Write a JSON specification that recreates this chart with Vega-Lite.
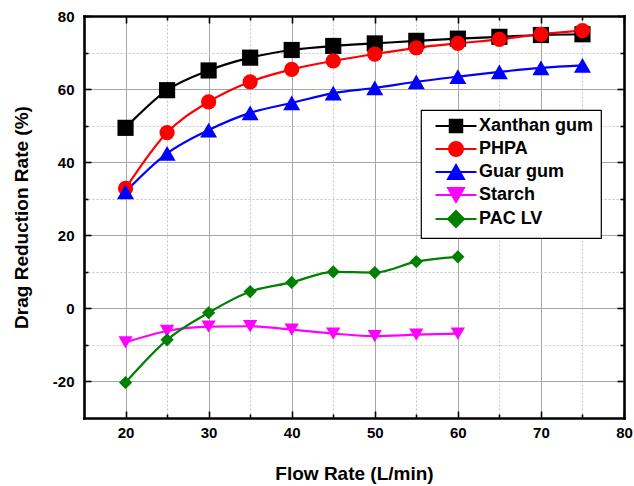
{
  "$schema": "https://vega.github.io/schema/vega-lite/v6.json",
  "width": 540,
  "height": 402,
  "autosize": "none",
  "padding": {"left": 84, "top": 16, "right": 10, "bottom": 68},
  "config": {
    "font": "Liberation Sans",
    "view": {"stroke": null},
    "axis": {
      "labelFont": "Liberation Sans",
      "labelFontWeight": "bold",
      "labelFontSize": 15,
      "labelColor": "black",
      "titleFont": "Liberation Sans",
      "titleFontWeight": "bold",
      "titleFontSize": 19,
      "titleColor": "black",
      "domainColor": "black",
      "domainWidth": 2.6,
      "domainCap": "square",
      "tickColor": "black",
      "tickWidth": 1.6,
      "gridWidth": 1
    },
    "legend": {
      "strokeWidth": 1.2,
      "orient": "none",
      "legendX": 337,
      "legendY": 94,
      "padding": 7,
      "fillColor": "white",
      "strokeColor": "black",
      "labelFont": "Liberation Sans",
      "labelFontSize": 18,
      "labelFontWeight": "bold",
      "labelColor": "black",
      "symbolSize": 100,
      "symbolStrokeWidth": 2,
      "symbolOffset": 19,
      "labelOffset": 14,
      "rowPadding": 1
    }
  },
  "data": {
    "values": [
      {"series": "Xanthan gum", "flow": 20, "drr": 49.4},
      {"series": "Xanthan gum", "flow": 25, "drr": 59.7},
      {"series": "Xanthan gum", "flow": 30, "drr": 65.1},
      {"series": "Xanthan gum", "flow": 35, "drr": 68.6},
      {"series": "Xanthan gum", "flow": 40, "drr": 70.7},
      {"series": "Xanthan gum", "flow": 45, "drr": 71.8},
      {"series": "Xanthan gum", "flow": 50, "drr": 72.5},
      {"series": "Xanthan gum", "flow": 55, "drr": 73.2},
      {"series": "Xanthan gum", "flow": 60, "drr": 73.8},
      {"series": "Xanthan gum", "flow": 65, "drr": 74.3},
      {"series": "Xanthan gum", "flow": 70, "drr": 74.8},
      {"series": "Xanthan gum", "flow": 75, "drr": 75.0},
      {"series": "PHPA", "flow": 20, "drr": 32.8},
      {"series": "PHPA", "flow": 25, "drr": 48.1},
      {"series": "PHPA", "flow": 30, "drr": 56.5},
      {"series": "PHPA", "flow": 35, "drr": 62.0},
      {"series": "PHPA", "flow": 40, "drr": 65.4},
      {"series": "PHPA", "flow": 45, "drr": 67.7},
      {"series": "PHPA", "flow": 50, "drr": 69.6},
      {"series": "PHPA", "flow": 55, "drr": 71.3},
      {"series": "PHPA", "flow": 60, "drr": 72.5},
      {"series": "PHPA", "flow": 65, "drr": 73.6},
      {"series": "PHPA", "flow": 70, "drr": 75.0},
      {"series": "PHPA", "flow": 75, "drr": 76.0},
      {"series": "Guar gum", "flow": 20, "drr": 31.9},
      {"series": "Guar gum", "flow": 25, "drr": 42.4},
      {"series": "Guar gum", "flow": 30, "drr": 48.8},
      {"series": "Guar gum", "flow": 35, "drr": 53.5},
      {"series": "Guar gum", "flow": 40, "drr": 56.2},
      {"series": "Guar gum", "flow": 45, "drr": 58.9},
      {"series": "Guar gum", "flow": 50, "drr": 60.3},
      {"series": "Guar gum", "flow": 55, "drr": 62.0},
      {"series": "Guar gum", "flow": 60, "drr": 63.4},
      {"series": "Guar gum", "flow": 65, "drr": 64.7},
      {"series": "Guar gum", "flow": 70, "drr": 65.8},
      {"series": "Guar gum", "flow": 75, "drr": 66.5},
      {"series": "Starch", "flow": 20, "drr": -9.3},
      {"series": "Starch", "flow": 25, "drr": -6.2},
      {"series": "Starch", "flow": 30, "drr": -5.0},
      {"series": "Starch", "flow": 35, "drr": -4.9},
      {"series": "Starch", "flow": 40, "drr": -5.8},
      {"series": "Starch", "flow": 45, "drr": -6.9},
      {"series": "Starch", "flow": 50, "drr": -7.6},
      {"series": "Starch", "flow": 55, "drr": -7.2},
      {"series": "Starch", "flow": 60, "drr": -6.9},
      {"series": "PAC LV", "flow": 20, "drr": -20.3},
      {"series": "PAC LV", "flow": 25, "drr": -8.6},
      {"series": "PAC LV", "flow": 30, "drr": -1.2},
      {"series": "PAC LV", "flow": 35, "drr": 4.6},
      {"series": "PAC LV", "flow": 40, "drr": 7.1},
      {"series": "PAC LV", "flow": 45, "drr": 10.0},
      {"series": "PAC LV", "flow": 50, "drr": 9.8},
      {"series": "PAC LV", "flow": 55, "drr": 12.8},
      {"series": "PAC LV", "flow": 60, "drr": 14.1}
    ]
  },
  "layer": [
    {
      "mark": {"type": "line", "interpolate": "monotone", "strokeWidth": 2.2},
      "encoding": {
        "x": {
          "field": "flow", "type": "quantitative",
          "scale": {"domain": [15, 80], "nice": false, "zero": false},
          "axis": {
            "orient": "bottom",
            "title": "Flow Rate (L/min)",
            "titlePadding": 24,
            "values": [20, 25, 30, 35, 40, 45, 50, 55, 60, 65, 70, 75, 80],
            "labelExpr": "datum.value % 10 === 0 ? datum.label : ''",
            "labelPadding": 14,
            "labelFlush": false,
            "tickSize": {"condition": {"test": "datum.value % 10 === 0", "value": -7}, "value": -4},
            "grid": true,
            "gridColor": {"condition": {"test": "datum.value % 10 === 0", "value": "#a6a6a6"}, "value": "#c4c4c4"},
            "gridDash": {"condition": {"test": "datum.value % 10 === 0", "value": []}, "value": [2, 2]}
          }
        },
        "y": {
          "field": "drr", "type": "quantitative",
          "scale": {"domain": [-30, 80], "nice": false, "zero": false},
          "axis": {
            "orient": "left",
            "title": "Drag Reduction Rate (%)",
            "titlePadding": 21,
            "values": [-20, -10, 0, 10, 20, 30, 40, 50, 60, 70, 80],
            "labelExpr": "datum.value % 20 === 0 ? '' + datum.value : ''",
            "labelPadding": 17,
            "labelFlush": false,
            "tickSize": {"condition": {"test": "datum.value % 20 === 0", "value": -7}, "value": -4},
            "grid": true,
            "gridColor": {"condition": {"test": "datum.value % 20 === 0", "value": "#a6a6a6"}, "value": "#c4c4c4"},
            "gridDash": {"condition": {"test": "datum.value % 20 === 0", "value": []}, "value": [2, 2]}
          }
        },
        "color": {
          "field": "series", "type": "nominal",
          "scale": {
            "domain": ["Xanthan gum", "PHPA", "Guar gum", "Starch", "PAC LV"],
            "range": ["#000000", "#ff0000", "#0000ff", "#ff00ff", "#008000"]
          },
          "legend": {
            "title": null,
            "encode": {
              "symbols": {
                "update": {
                  "fill": {"scale": "color", "field": "value"},
                  "stroke": {"scale": "color", "field": "value"},
                  "shape": {"signal": "datum.value === 'Xanthan gum' ? 'M-4.1,0H4.1M-1.25,-1.25H1.25V1.25H-1.25Z' : datum.value === 'PHPA' ? 'M-4.1,0H4.1M-1.4,0A1.4,1.4,0,1,0,1.4,0A1.4,1.4,0,1,0,-1.4,0Z' : datum.value === 'Guar gum' ? 'M-4.1,0H4.1M0,-1.4L1.6,1.4L-1.6,1.4Z' : datum.value === 'Starch' ? 'M-4.1,0H4.1M0,1.4L1.6,-1.4L-1.6,-1.4Z' : 'M-4.1,0H4.1M0,-1.6L1.6,0L0,1.6L-1.6,0Z'"}
                }
              }
            }
          }
        }
      }
    },
    {
      "mark": {"type": "point", "filled": true, "opacity": 1},
      "encoding": {
        "x": {
          "field": "flow", "type": "quantitative",
          "axis": {
            "orient": "top",
            "title": null,
            "labels": false,
            "grid": false,
            "values": [20, 25, 30, 35, 40, 45, 50, 55, 60, 65, 70, 75, 80],
            "tickSize": {"condition": {"test": "datum.value % 10 === 0", "value": -7}, "value": -4}
          }
        },
        "y": {
          "field": "drr", "type": "quantitative",
          "axis": {
            "orient": "right",
            "title": null,
            "labels": false,
            "grid": false,
            "values": [-20, -10, 0, 10, 20, 30, 40, 50, 60, 70, 80],
            "tickSize": {"condition": {"test": "datum.value % 20 === 0", "value": -7}, "value": -4}
          }
        },
        "color": {"field": "series", "type": "nominal", "legend": null},
        "shape": {
          "field": "series", "type": "nominal",
          "scale": {
            "domain": ["PHPA", "Xanthan gum", "Guar gum", "Starch", "PAC LV"],
            "range": ["circle", "square", "triangle-up", "triangle-down", "diamond"]
          },
          "legend": null
        },
        "size": {
          "field": "series", "type": "nominal",
          "scale": {
            "domain": ["Guar gum", "Xanthan gum", "PHPA", "Starch", "PAC LV"],
            "range": [290, 175, 225, 290, 300]
          },
          "legend": null
        }
      }
    }
  ],
  "resolve": {"axis": {"x": "independent", "y": "independent"}}
}
